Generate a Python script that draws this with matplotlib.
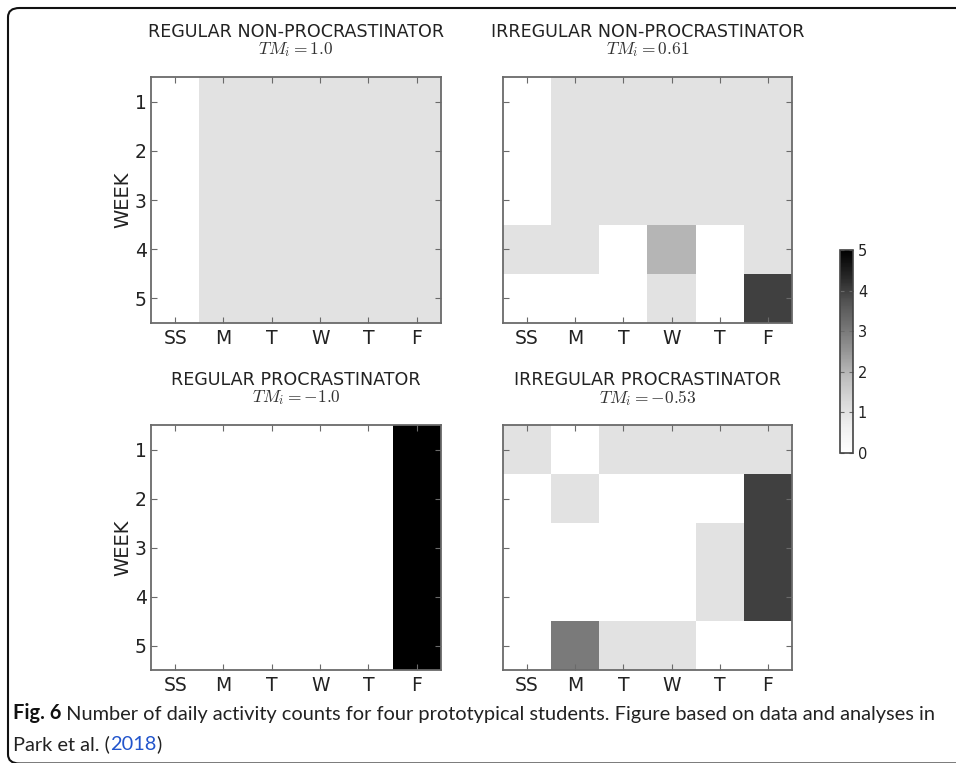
import numpy as np
import matplotlib
matplotlib.use("Agg")
import matplotlib.pyplot as plt
from matplotlib.patches import FancyBboxPatch
from matplotlib.text import Annotation

plt.rcParams['mathtext.fontset'] = 'cm'

days = ["SS", "M", "T", "W", "T", "F"]
weeks = ["1", "2", "3", "4", "5"]

titles = ["REGULAR NON-PROCRASTINATOR", "IRREGULAR NON-PROCRASTINATOR",
          "REGULAR PROCRASTINATOR", "IRREGULAR PROCRASTINATOR"]
tm_labels = [r"$TM_i = 1.0$", r"$TM_i = 0.61$", r"$TM_i = -1.0$", r"$TM_i = -0.53$"]

regular_non = [[0, 1, 1, 1, 1, 1],
               [0, 1, 1, 1, 1, 1],
               [0, 1, 1, 1, 1, 1],
               [0, 1, 1, 1, 1, 1],
               [0, 1, 1, 1, 1, 1]]
irregular_non = [[0, 1, 1, 1, 1, 1],
                 [0, 1, 1, 1, 1, 1],
                 [0, 1, 1, 1, 1, 1],
                 [1, 1, 0, 2, 0, 1],
                 [0, 0, 0, 1, 0, 4]]
regular_pro = [[0, 0, 0, 0, 0, 5],
               [0, 0, 0, 0, 0, 5],
               [0, 0, 0, 0, 0, 5],
               [0, 0, 0, 0, 0, 5],
               [0, 0, 0, 0, 0, 5]]
irregular_pro = [[1, 0, 1, 1, 1, 1],
                 [0, 1, 0, 0, 0, 4],
                 [0, 0, 0, 0, 1, 4],
                 [0, 0, 0, 0, 1, 4],
                 [0, 3, 1, 1, 0, 0]]
data = [regular_non, irregular_non, regular_pro, irregular_pro]

caption_bold = "Fig. 6"
caption_rest = (" Number of daily activity counts for four prototypical students. "
                "Figure based on data and analyses in")
caption_line2 = ["Park et al. (", "2018", ")"]

W, H = 956, 763
fig = plt.figure(figsize=(W / 100, H / 100), dpi=100)

def px_axes(x0, y0, x1, y1):
    return [x0 / W, 1 - y1 / H, (x1 - x0) / W, (y1 - y0) / H]

boxes = [(151, 77, 441, 323), (503, 77, 792, 323),
         (151, 425, 441, 670), (503, 425, 792, 670)]

spine_col = '#6a6a6a'
im = None
for i, (b, d) in enumerate(zip(boxes, data)):
    ax = fig.add_axes(px_axes(*b))
    im = ax.imshow(np.array(d), cmap='Greys', vmin=0, vmax=5,
                   aspect='auto', interpolation='nearest')
    ax.set_xticks(range(len(days)))
    ax.set_xticklabels(days, fontsize=13.5, color='#222222')
    ax.set_yticks(range(len(weeks)))
    ax.set_yticklabels(weeks if i % 2 == 0 else [], fontsize=13.5, color='#222222')
    ax.tick_params(direction='in', length=4, width=0.8, color=spine_col,
                   top=True, right=True)
    ax.tick_params(axis='y', pad=3)
    ax.tick_params(axis='x', pad=4)
    for s in ax.spines.values():
        s.set_color(spine_col)
        s.set_linewidth(1.3)
    cx = (b[0] + b[2]) / 2 / W
    fig.text(cx, 1 - (b[1] - 45) / H, titles[i], ha='center', va='center',
             fontsize=12.6, color='#222222')
    fig.text(cx, 1 - (b[1] - 27) / H, tm_labels[i], ha='center', va='center',
             fontsize=12.5, color='#333333')
    if i % 2 == 0:
        ax.set_ylabel("WEEK", fontsize=14, color='#222222', labelpad=2)

cax = fig.add_axes(px_axes(840, 250, 853, 453))
cb = fig.colorbar(im, cax=cax, ticks=[0, 1, 2, 3, 4, 5])
cb.ax.tick_params(direction='in', length=3, width=0.8, color=spine_col,
                  labelsize=10.5, left=True, right=True, labelcolor='#222222')
cb.outline.set_edgecolor('#444444')
cb.outline.set_linewidth(1.2)

# frame (bottom edge sits just at the image border)
frame = FancyBboxPatch((8 / W, -0.5 / H), (W + 40) / W, (H - 8 + 0.5) / H,
                       boxstyle="round,pad=0,rounding_size=0.012",
                       transform=fig.transFigure, fill=False,
                       edgecolor='#111111', linewidth=1.5, clip_on=False)
fig.add_artist(frame)

cap_font = 'Lato'
fs = 14.45
t1 = fig.text(13 / W, 1 - 723 / H, caption_bold, fontsize=fs, fontweight='bold',
              family=cap_font, color='#111111', va='bottom')
fig.add_artist(Annotation(caption_rest, xy=(1, 0), xycoords=t1,
                          fontsize=fs, family=cap_font, color='#222222',
                          va='bottom', ha='left'))
t2 = fig.text(13 / W, 1 - 753 / H, caption_line2[0], fontsize=fs, family=cap_font,
              color='#222222', va='bottom')
a2 = fig.add_artist(Annotation(caption_line2[1], xy=(1, 0), xycoords=t2,
                               fontsize=fs, family=cap_font, color='#2255cc',
                               va='bottom', ha='left'))
fig.add_artist(Annotation(caption_line2[2], xy=(1, 0), xycoords=a2,
                          fontsize=fs, family=cap_font, color='#222222',
                          va='bottom', ha='left'))

fig.savefig("out.png", dpi=100)
